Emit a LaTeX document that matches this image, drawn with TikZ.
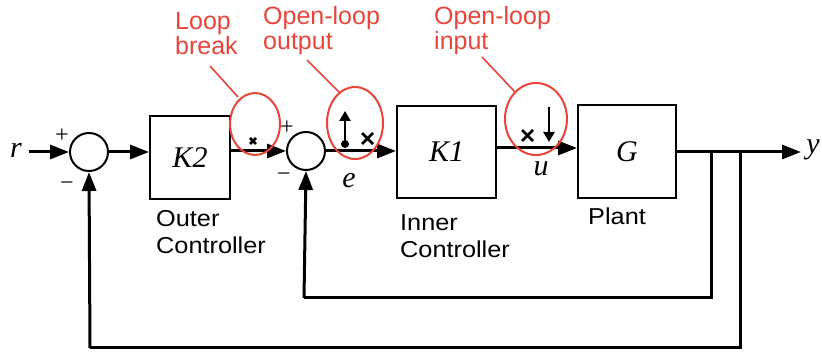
\documentclass[tikz,border=0pt]{standalone}
\usepackage{fontspec}
\setmainfont{Liberation Serif}
\newfontfamily\lblfont{Liberation Sans}
\usetikzlibrary{arrows.meta}
\definecolor{ann}{HTML}{E8443A}
\newcommand{\wlbl}[1]{\scalebox{1.1}[1]{\begin{tabular}{@{}l@{}}#1\end{tabular}}}
\begin{document}
\begin{tikzpicture}[x=1pt,y=-1pt,
  sig/.style={line width=3pt,-{Triangle[length=19pt,width=14pt]}},
  wire/.style={line width=3pt},
  blk/.style={draw,line width=2pt,minimum width=#1,inner sep=0pt},
  sumj/.style={draw,circle,line width=2pt,minimum size=38pt,inner sep=0pt},
  mathlbl/.style={font=\fontsize{30}{30}\selectfont\itshape,inner sep=0pt},
  blklbl/.style={font=\lblfont\fontsize{23}{27}\selectfont,inner sep=0pt,anchor=north west},
  annlbl/.style={font=\lblfont\fontsize{25}{25}\selectfont,text=ann,align=left,inner sep=0pt,anchor=north west},
  annring/.style={draw=ann,line width=2pt},
  annline/.style={draw=ann,line width=1.6pt},
  pm/.style={font=\fontsize{24}{24}\selectfont,inner sep=0pt}
]
\useasboundingbox (0,0) rectangle (822,352);
% blocks
\node[sumj] (s1) at (89,152) {};
\node[sumj] (s2) at (306,151) {};
\node[blk=80pt,minimum height=83pt] (k2) at (190,157.5) {};
\node[mathlbl] at (k2.center) {K2};
\node[blk=99pt,minimum height=92pt] (k1) at (446.5,152) {};
\node[mathlbl] at (k1.center) {K1};
\node[blk=98pt,minimum height=93pt] (g) at (627,151.5) {};
\node[mathlbl] at (g.center) {G};
% signals
\node[mathlbl] (r) at (16,150) {r};
\node[mathlbl] (y) at (813,150) {y};
\node[mathlbl] (e) at (349,181) {e};
\node[mathlbl] (u) at (541,169) {u};
\coordinate (rs) at (29,152);
\draw[sig] (rs) -- (s1.west);
\draw[sig] (s1.east) -- (k2.west |- s1.east);
\draw[sig] (k2.east |- s2.west) -- (s2.west);
\draw[sig] (s2.east) -- (k1.west |- s2.east);
\draw[sig] (k1.east |- 0,148) -- (g.west |- 0,148);
\coordinate (yend) at (801,152);
\draw[sig] (g.east |- yend) -- (yend);
\coordinate (b1) at (711,152);
\coordinate (b2) at (740,152);
\coordinate (c1) at (711,298);
\coordinate (c2) at (740,348);
\coordinate (d1) at (304,298);
\coordinate (d2) at (90,348);
\draw[wire] (b1) -- (c1) -- (d1);
\draw[sig] (d1) -- (s2.south);
\draw[wire] (b2) -- (c2) -- (d2);
\draw[sig] (d2) -- (s1.south);
% signs
\node[pm] at (62,136) {+};
\node[pm] at (67,186) {\textminus};
\node[pm] at (287,128) {+};
\node[pm] at (284,177) {\textminus};
% block labels
\node[blklbl] (lo) at (156,207) {\wlbl{Outer\\Controller}};
\node[blklbl] (li) at (400,211) {\wlbl{Inner\\Controller}};
\node[blklbl] (lp) at (588,205) {\wlbl{Plant}};
% annotations
\node[annlbl] (alb) at (175,12) {Loop\\break};
\node[annlbl] (alo) at (263,6) {Open-loop\\output};
\node[annlbl] (ali) at (434,6) {Open-loop\\input};
\draw[annring] (255,124) ellipse [x radius=25, y radius=31];
\draw[annring] (355,123) ellipse [x radius=28, y radius=36];
\draw[annring] (536,119) ellipse [x radius=31, y radius=36];
\coordinate (lb1) at (210,66);
\coordinate (lb2) at (238,97);
\coordinate (lo1) at (307,60);
\coordinate (lo2) at (340,93);
\coordinate (li1) at (482,57);
\coordinate (li2) at (515,92);
\draw[annline] (lb1) -- (lb2);
\draw[annline] (lo1) -- (lo2);
\draw[annline] (li1) -- (li2);
% markers
\draw[line width=2.6pt] (250,138) -- (256,144) (256,138) -- (250,144);
\draw[line width=2.6pt] (362,133) -- (373,144) (373,133) -- (362,144);
\draw[line width=2.6pt] (522,130) -- (533,141) (533,130) -- (522,141);
\fill (345,144) circle (4);
\draw[line width=2.6pt,-{Triangle[length=10pt,width=11pt]}] (345,144) -- (345,111);
\draw[line width=2.6pt,-{Triangle[length=10pt,width=11pt]}] (549,107) -- (549,142);
\end{tikzpicture}
\end{document}
